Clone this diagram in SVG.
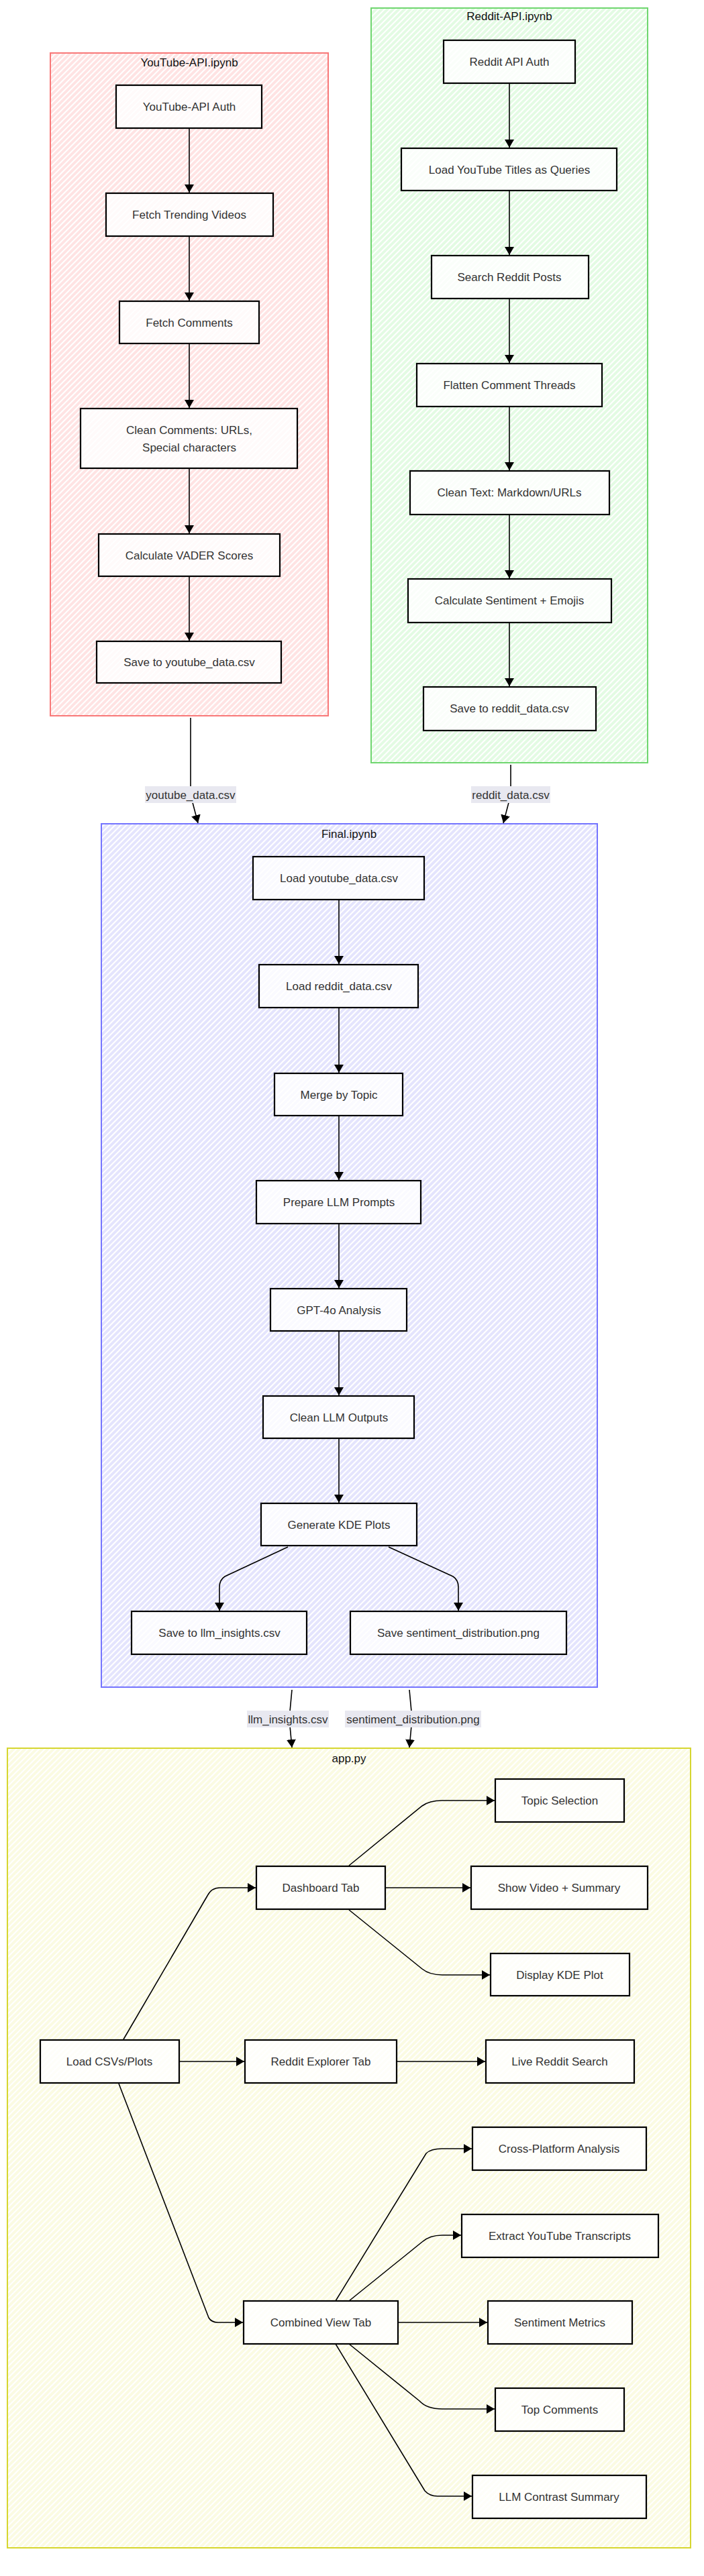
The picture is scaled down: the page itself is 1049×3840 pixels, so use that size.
<svg xmlns="http://www.w3.org/2000/svg" width="1049" height="3840" viewBox="0 0 1049 3840">
<defs>
<style>
.ctr{stroke-width:2}
.node rect{fill:#fff;fill-opacity:0.8;stroke:#000;stroke-width:2.2}
text{font-family:"Liberation Sans",Arial,sans-serif;font-size:17px;text-anchor:middle}
.node text{fill:#333}
.title{fill:#111}
.edge{fill:none;stroke:#000;stroke-width:1.6}
.elabel rect{fill:#e8e8f0}
.elabel text{fill:#333}
</style>
<pattern id="hRed" patternUnits="userSpaceOnUse" width="6" height="6" patternTransform="rotate(45)"><rect width="6" height="6" fill="#ffe3e3"/><line x1="1" y1="0" x2="1" y2="6" stroke="#fff" stroke-width="2.2"/></pattern>
<pattern id="hGreen" patternUnits="userSpaceOnUse" width="6" height="6" patternTransform="rotate(45)"><rect width="6" height="6" fill="#e3fbe3"/><line x1="1" y1="0" x2="1" y2="6" stroke="#fff" stroke-width="2.2"/></pattern>
<pattern id="hBlue" patternUnits="userSpaceOnUse" width="6" height="6" patternTransform="rotate(45)"><rect width="6" height="6" fill="#e4e4fd"/><line x1="1" y1="0" x2="1" y2="6" stroke="#fff" stroke-width="2.2"/></pattern>
<pattern id="hYellow" patternUnits="userSpaceOnUse" width="6" height="6" patternTransform="rotate(45)"><rect width="6" height="6" fill="#fbfbe2"/><line x1="1" y1="0" x2="1" y2="6" stroke="#fff" stroke-width="2.2"/></pattern>
<marker id="arr" viewBox="0 0 12 14" refX="12" refY="7" markerWidth="12" markerHeight="14" orient="auto" markerUnits="userSpaceOnUse"><path d="M0,0 L12,7 L0,14 z" fill="#000"/></marker>
</defs>
<rect width="1049" height="3840" fill="#fff"/>

<g id="clusters">
<g id="cluster-youtube"><rect class="ctr" x="75" y="79" width="414" height="988" fill="url(#hRed)" stroke="#f87878"/><text class="title" x="282" y="99">YouTube-API.ipynb</text></g>
<g id="cluster-reddit"><rect class="ctr" x="553" y="12" width="412" height="1125" fill="url(#hGreen)" stroke="#6fd66f"/><text class="title" x="759" y="30">Reddit-API.ipynb</text></g>
<g id="cluster-final"><rect class="ctr" x="151" y="1228" width="739" height="1287" fill="url(#hBlue)" stroke="#7474ff"/><text class="title" x="520" y="1249">Final.ipynb</text></g>
<g id="cluster-app"><rect class="ctr" x="11" y="2606" width="1018" height="1192" fill="url(#hYellow)" stroke="#d6d630"/><text class="title" x="520" y="2627">app.py</text></g>
</g>

<g id="connectors">
<path class="edge" marker-end="url(#arr)" d="M282,191 L282,287"/>
<path class="edge" marker-end="url(#arr)" d="M282,352 L282,448"/>
<path class="edge" marker-end="url(#arr)" d="M282,512 L282,608"/>
<path class="edge" marker-end="url(#arr)" d="M282,698 L282,795"/>
<path class="edge" marker-end="url(#arr)" d="M282,859 L282,955"/>
<path class="edge" marker-end="url(#arr)" d="M759,124 L759,220"/>
<path class="edge" marker-end="url(#arr)" d="M759,284 L759,380"/>
<path class="edge" marker-end="url(#arr)" d="M759,445 L759,541"/>
<path class="edge" marker-end="url(#arr)" d="M759,606 L759,701"/>
<path class="edge" marker-end="url(#arr)" d="M759,767 L759,862"/>
<path class="edge" marker-end="url(#arr)" d="M759,928 L759,1023"/>
<path class="edge" marker-end="url(#arr)" d="M284,1070 L284,1185 L295,1227"/>
<path class="edge" marker-end="url(#arr)" d="M761,1140 L761,1185 L750,1227"/>
<path class="edge" marker-end="url(#arr)" d="M505,1341 L505,1437"/>
<path class="edge" marker-end="url(#arr)" d="M505,1502 L505,1599"/>
<path class="edge" marker-end="url(#arr)" d="M505,1663 L505,1759"/>
<path class="edge" marker-end="url(#arr)" d="M505,1824 L505,1920"/>
<path class="edge" marker-end="url(#arr)" d="M505,1984 L505,2080"/>
<path class="edge" marker-end="url(#arr)" d="M505,2144 L505,2240"/>
<path class="edge" marker-end="url(#arr)" d="M429,2306 L335,2350 Q327,2355 327,2366 L327,2401"/>
<path class="edge" marker-end="url(#arr)" d="M579,2306 L675,2350 Q683,2355 683,2366 L683,2401"/>
<path class="edge" marker-end="url(#arr)" d="M435,2519 L431,2562 L435,2605"/>
<path class="edge" marker-end="url(#arr)" d="M610,2519 L614,2562 L610,2605"/>
<path class="edge" marker-end="url(#arr)" d="M184,3040 L309,2826 Q315,2814 328,2814 L381,2814"/>
<path class="edge" marker-end="url(#arr)" d="M520,2781 L629,2692 Q640,2684 659,2684 L737,2684"/>
<path class="edge" marker-end="url(#arr)" d="M574,2814 L701,2814"/>
<path class="edge" marker-end="url(#arr)" d="M520,2847 L629,2935 Q640,2944 659,2944 L730,2944"/>
<path class="edge" marker-end="url(#arr)" d="M267,3073 L364,3073"/>
<path class="edge" marker-end="url(#arr)" d="M591,3073 L723,3073"/>
<path class="edge" marker-end="url(#arr)" d="M177,3106 L311,3455 Q315,3462 325,3462 L362,3462"/>
<path class="edge" marker-end="url(#arr)" d="M500,3430 L635,3210 Q642,3203 659,3203 L703,3203"/>
<path class="edge" marker-end="url(#arr)" d="M520,3430 L629,3342 Q640,3332 659,3332 L687,3332"/>
<path class="edge" marker-end="url(#arr)" d="M593,3462 L726,3462"/>
<path class="edge" marker-end="url(#arr)" d="M520,3494 L625,3579 Q636,3591 659,3591 L737,3591"/>
<path class="edge" marker-end="url(#arr)" d="M500,3494 L633,3713 Q640,3721 652,3721 L703,3721"/>
<g class="elabel"><rect x="216" y="1172" width="136" height="25"/><text x="284" y="1191">youtube_data.csv</text></g>
<g class="elabel"><rect x="702" y="1172" width="118" height="25"/><text x="761" y="1191">reddit_data.csv</text></g>
<g class="elabel"><rect x="368" y="2550" width="122" height="25"/><text x="429" y="2569">llm_insights.csv</text></g>
<g class="elabel"><rect x="514" y="2550" width="203" height="25"/><text x="615.5" y="2569">sentiment_distribution.png</text></g>
</g>

<g id="yt-auth" class="node"><rect x="173" y="127" width="217" height="64"/><text x="282" y="165">YouTube-API Auth</text></g>
<g id="yt-fetch-trending" class="node"><rect x="158" y="288" width="249" height="64"/><text x="282" y="326">Fetch Trending Videos</text></g>
<g id="yt-fetch-comments" class="node"><rect x="178" y="449" width="208" height="63"/><text x="282" y="487">Fetch Comments</text></g>
<g id="yt-clean" class="node"><rect x="120" y="609" width="323" height="89"/><text x="282" y="647">Clean Comments: URLs,</text><text x="282" y="673">Special characters</text></g>
<g id="yt-vader" class="node"><rect x="147" y="796" width="270" height="63"/><text x="282" y="834">Calculate VADER Scores</text></g>
<g id="yt-save" class="node"><rect x="144" y="956" width="275" height="62"/><text x="282" y="993">Save to youtube_data.csv</text></g>

<g id="rd-auth" class="node"><rect x="661" y="60" width="196" height="64"/><text x="759" y="98">Reddit API Auth</text></g>
<g id="rd-load" class="node"><rect x="598" y="221" width="321" height="63"/><text x="759" y="259">Load YouTube Titles as Queries</text></g>
<g id="rd-search" class="node"><rect x="643" y="381" width="234" height="64"/><text x="759" y="419">Search Reddit Posts</text></g>
<g id="rd-flatten" class="node"><rect x="621" y="542" width="276" height="64"/><text x="759" y="580">Flatten Comment Threads</text></g>
<g id="rd-clean" class="node"><rect x="611" y="702" width="297" height="65"/><text x="759" y="740">Clean Text: Markdown/URLs</text></g>
<g id="rd-sentiment" class="node"><rect x="608" y="863" width="303" height="65"/><text x="759" y="901">Calculate Sentiment + Emojis</text></g>
<g id="rd-save" class="node"><rect x="631" y="1024" width="257" height="65"/><text x="759" y="1062">Save to reddit_data.csv</text></g>

<g id="fn-load-yt" class="node"><rect x="377" y="1277" width="255" height="64"/><text x="505" y="1315">Load youtube_data.csv</text></g>
<g id="fn-load-rd" class="node"><rect x="386" y="1438" width="237" height="64"/><text x="505" y="1476">Load reddit_data.csv</text></g>
<g id="fn-merge" class="node"><rect x="409" y="1600" width="191" height="63"/><text x="505" y="1638">Merge by Topic</text></g>
<g id="fn-prompts" class="node"><rect x="382" y="1760" width="245" height="64"/><text x="505" y="1798">Prepare LLM Prompts</text></g>
<g id="fn-gpt" class="node"><rect x="403" y="1921" width="203" height="63"/><text x="505" y="1959">GPT-4o Analysis</text></g>
<g id="fn-clean" class="node"><rect x="392" y="2081" width="225" height="63"/><text x="505" y="2119">Clean LLM Outputs</text></g>
<g id="fn-kde" class="node"><rect x="389" y="2241" width="232" height="63"/><text x="505" y="2279">Generate KDE Plots</text></g>
<g id="fn-save-llm" class="node"><rect x="196" y="2402" width="261" height="64"/><text x="327" y="2440">Save to llm_insights.csv</text></g>
<g id="fn-save-png" class="node"><rect x="522" y="2402" width="322" height="64"/><text x="683" y="2440">Save sentiment_distribution.png</text></g>

<g id="ap-topic" class="node"><rect x="738" y="2652" width="192" height="64"/><text x="834" y="2690">Topic Selection</text></g>
<g id="ap-dashboard" class="node"><rect x="382" y="2782" width="192" height="64"/><text x="478" y="2820">Dashboard Tab</text></g>
<g id="ap-video" class="node"><rect x="702" y="2782" width="263" height="64"/><text x="833" y="2820">Show Video + Summary</text></g>
<g id="ap-kde" class="node"><rect x="731" y="2912" width="207" height="63"/><text x="834" y="2950">Display KDE Plot</text></g>
<g id="ap-load" class="node"><rect x="60" y="3041" width="207" height="64"/><text x="163" y="3079">Load CSVs/Plots</text></g>
<g id="ap-reddit" class="node"><rect x="365" y="3041" width="226" height="64"/><text x="478" y="3079">Reddit Explorer Tab</text></g>
<g id="ap-live" class="node"><rect x="724" y="3041" width="221" height="64"/><text x="834" y="3079">Live Reddit Search</text></g>
<g id="ap-cross" class="node"><rect x="704" y="3171" width="259" height="64"/><text x="833" y="3209">Cross-Platform Analysis</text></g>
<g id="ap-extract" class="node"><rect x="688" y="3301" width="293" height="64"/><text x="834" y="3339">Extract YouTube Transcripts</text></g>
<g id="ap-combined" class="node"><rect x="363" y="3430" width="230" height="64"/><text x="478" y="3468">Combined View Tab</text></g>
<g id="ap-metrics" class="node"><rect x="727" y="3430" width="215" height="64"/><text x="834" y="3468">Sentiment Metrics</text></g>
<g id="ap-top" class="node"><rect x="738" y="3560" width="192" height="64"/><text x="834" y="3598">Top Comments</text></g>
<g id="ap-llm" class="node"><rect x="704" y="3690" width="259" height="64"/><text x="833" y="3728">LLM Contrast Summary</text></g>
</svg>
